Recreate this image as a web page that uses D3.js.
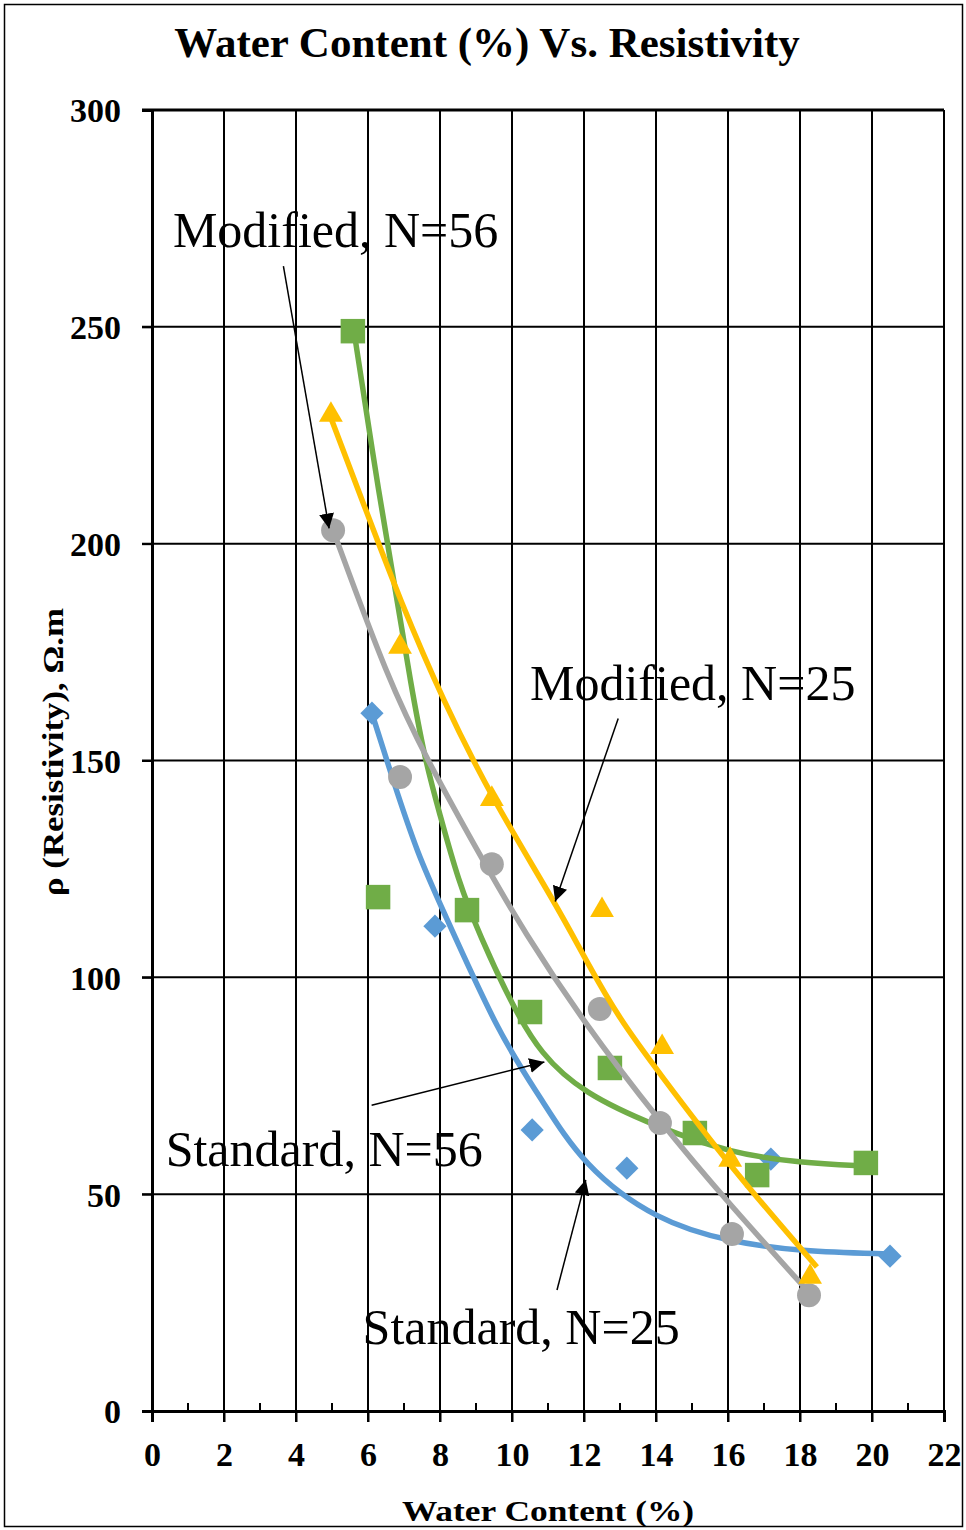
<!DOCTYPE html>
<html>
<head>
<meta charset="utf-8">
<script src="https://cdn.jsdelivr.net/npm/d3@7"></script>
<style>
  body { margin: 0; background: #fff; }
  svg { display: block; }
  text { font-family: 'Liberation Serif', 'Times New Roman', serif; }
</style>
</head>
<body>
<svg id="chart" width="966" height="1530"></svg>
<script>
// ---- data ----
const xTicks = [0, 2, 4, 6, 8, 10, 12, 14, 16, 18, 20, 22]
const yTicks = [0, 50, 100, 150, 200, 250, 300]

// Standard, N=25 (blue diamonds)
const std25 = [[6.11, 160.9], [7.86, 111.8], [10.56, 64.8], [13.19, 56.0], [17.19, 58.1], [20.5, 35.7]]
const std25Trend = [[6.11, 160.9], [6.69, 145.5], [7.4, 128], [8.0, 117], [9.67, 86.2], [10.78, 72.5], [11.97, 56.5], [14.03, 43.8], [16.06, 39.0], [18.0, 36.8], [20.5, 36.2]]

// Standard, N=56 (green squares)
const std56 = [[5.58, 249.0], [6.28, 118.5], [8.75, 115.5], [10.5, 92.0], [12.72, 79.1], [15.08, 64.1], [16.81, 54.4], [19.83, 57.2]]
const std56Trend = [[5.62, 248.5], [6.33, 210.0], [6.81, 187.0], [7.17, 168.6], [7.58, 150.1], [8.0, 137.5], [8.5, 122.4], [9.11, 109.5], [10.03, 93.2], [10.78, 82.5], [11.97, 73.3], [14.03, 65.5], [16.06, 59.5], [18.0, 57.2], [19.83, 56.5]]

// Modified, N=56 (grey circles)
const mod56 = [[5.03, 203.1], [6.89, 146.2], [9.44, 126.1], [12.44, 92.7], [14.11, 66.4], [16.11, 40.8], [18.25, 26.7]]
const mod56Trend = [[5.03, 203.1], [6.56, 168.6], [7.64, 150.1], [9.31, 125.2], [10.31, 110.9], [11.94, 90.2], [14.13, 66.4], [16.06, 47.5], [18.19, 27.9]]

// Modified, N=25 (yellow triangles)
const mod25 = [[4.97, 229.7], [6.89, 176.2], [9.44, 141.1], [12.5, 115.5], [14.17, 83.9], [16.06, 57.9], [18.28, 30.9]]
const mod25Trend = [[4.97, 229.0], [5.97, 207.1], [6.89, 187.0], [8.08, 163.9], [9.44, 141.3], [11.25, 116.5], [12.08, 103.5], [13.0, 90.2], [14.03, 78.6], [16.06, 56.3], [18.47, 33.2]]

// annotations: label, label anchor (data), arrow tail (data), arrow tip (data)
const notes = [
  { text: 'Modified, N=56', at: [0.58, 268.5], from: [3.65, 264], to: [4.92, 203.5] },
  { text: 'Modified, N=25', at: [10.5, 164], from: [12.95, 159.7], to: [11.2, 117.5] },
  { text: 'Standard, N=56', at: [0.38, 56.5], from: [6.1, 70.5], to: [10.9, 80.5] },
  { text: 'Standard, N=25', at: [5.85, 15.5], from: [11.25, 27.9], to: [12.05, 53.3] },
]

const series = [
  { pts: std25, trend: std25Trend, color: '#5b9bd5', shape: d3.symbolSquare, size: 270, rot: 45 },
  { pts: std56, trend: std56Trend, color: '#70ad47', shape: d3.symbolSquare, size: 600, rot: 0 },
  { pts: mod56, trend: mod56Trend, color: '#a5a5a5', shape: d3.symbolCircle, size: 450, rot: 0 },
  { pts: mod25, trend: mod25Trend, color: '#ffc000', shape: d3.symbolTriangle, size: 245, rot: 0 },
]

// ---- layout ----
const W = 966
const H = 1530
const m = { left: 152, right: 22, top: 110, bottom: 119 }

const svg = d3.select('#chart')

svg.append('rect')
  .attr('x', 4.5).attr('y', 4.5)
  .attr('width', W - 8).attr('height', H - 8)
  .attr('fill', '#fff').attr('stroke', '#000').attr('stroke-width', 1.5)

const x = d3.scaleLinear([0, 22], [m.left, W - m.right])
const y = d3.scaleLinear([0, 300], [H - m.bottom, m.top])

// gridlines
svg.append('g')
  .selectAll('line')
  .data(xTicks.slice(1))
  .join('line')
  .attr('x1', (d) => x(d)).attr('x2', (d) => x(d))
  .attr('y1', y(300)).attr('y2', y(0) + 11)
  .attr('stroke', '#000').attr('stroke-width', 2)

svg.append('g')
  .selectAll('line')
  .data(yTicks.slice(1))
  .join('line')
  .attr('x1', x(0) - 10).attr('x2', x(22))
  .attr('y1', (d) => y(d)).attr('y2', (d) => y(d))
  .attr('stroke', '#000').attr('stroke-width', (d) => d === 300 ? 3 : 2)

// minor ticks on x axis
svg.append('g')
  .selectAll('line')
  .data(d3.range(1, 22, 2))
  .join('line')
  .attr('x1', (d) => x(d)).attr('x2', (d) => x(d))
  .attr('y1', y(0) - 8).attr('y2', y(0))
  .attr('stroke', '#000').attr('stroke-width', 2)

// axes
const xAxis = svg.append('g')
  .attr('transform', `translate(0,${ y(0) })`)
  .call(d3.axisBottom(x).tickValues(xTicks).tickSize(11).tickPadding(20).tickFormat(d3.format('d')))
const yAxis = svg.append('g')
  .attr('transform', `translate(${ x(0) },0)`)
  .call(d3.axisLeft(y).tickValues(yTicks).tickSize(10).tickPadding(21).tickFormat(d3.format('d')))

svg.selectAll('.domain').attr('stroke', '#000').attr('stroke-width', 3)
svg.selectAll('.tick line').attr('stroke', '#000').attr('stroke-width', 2)
svg.selectAll('.tick text')
  .style('font-family', "'Liberation Serif', serif")
  .style('font-weight', 'bold')
  .style('font-size', '34px')
  .attr('fill', '#000')
xAxis.selectAll('.tick text').attr('dy', '0.71em')
yAxis.selectAll('.tick text').attr('dy', '0.35em')

// trends + markers
const line = d3.line()
  .x((d) => x(d[0]))
  .y((d) => y(d[1]))
  .curve(d3.curveBasis)

series.forEach((s) => {
  svg.append('path')
    .datum(s.trend)
    .attr('d', line)
    .attr('fill', 'none')
    .attr('stroke', s.color)
    .attr('stroke-width', 5.5)

  svg.append('g')
    .selectAll('path')
    .data(s.pts)
    .join('path')
    .attr('transform', (d) => `translate(${ x(d[0]) },${ y(d[1]) }) rotate(${ s.rot })`)
    .attr('d', d3.symbol(s.shape, s.size))
    .attr('fill', s.color)
})

// annotations
svg.append('defs').append('marker')
  .attr('id', 'arrow')
  .attr('viewBox', '0 0 10 10')
  .attr('refX', 10).attr('refY', 5)
  .attr('markerWidth', 15).attr('markerHeight', 15)
  .attr('markerUnits', 'userSpaceOnUse')
  .attr('orient', 'auto')
  .append('path')
  .attr('d', 'M0,0 L10,5 L0,10 z')
  .attr('fill', '#000')

svg.append('g')
  .selectAll('line')
  .data(notes)
  .join('line')
  .attr('x1', (d) => x(d.from[0])).attr('y1', (d) => y(d.from[1]))
  .attr('x2', (d) => x(d.to[0])).attr('y2', (d) => y(d.to[1]))
  .attr('stroke', '#000').attr('stroke-width', 1.5)
  .attr('marker-end', 'url(#arrow)')

svg.append('g')
  .selectAll('text')
  .data(notes)
  .join('text')
  .attr('x', (d) => x(d.at[0]))
  .attr('y', (d) => y(d.at[1]))
  .attr('font-size', 50)
  .attr('fill', '#000')
  .text((d) => d.text)

// titles
svg.append('text')
  .attr('x', 487).attr('y', 57)
  .attr('text-anchor', 'middle')
  .attr('font-size', 43).attr('font-weight', 'bold')
  .text('Water Content (%) Vs. Resistivity')

svg.append('text')
  .attr('transform', 'translate(548,1521) scale(1.18,1)')
  .attr('text-anchor', 'middle')
  .attr('font-size', 30).attr('font-weight', 'bold')
  .text('Water Content (%)')

svg.append('text')
  .attr('transform', 'translate(63,752) rotate(-90) scale(1.16,1)')
  .attr('text-anchor', 'middle')
  .attr('font-size', 30).attr('font-weight', 'bold')
  .text('ρ (Resistivity), Ω.m')
</script>
</body>
</html>
